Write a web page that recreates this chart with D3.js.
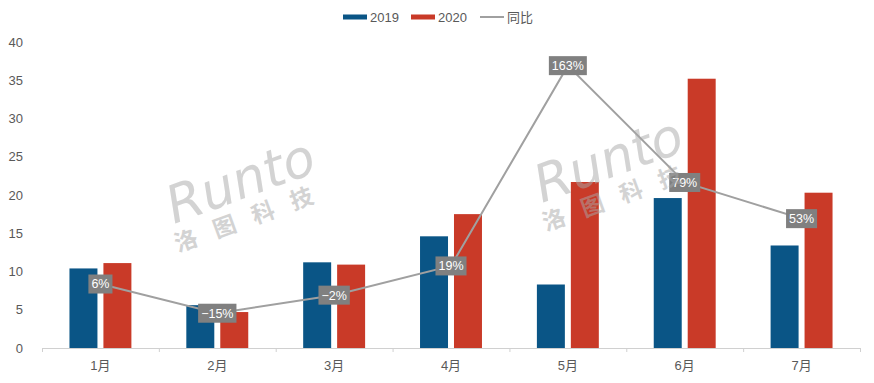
<!DOCTYPE html>
<html><head><meta charset="utf-8">
<script src="https://cdn.jsdelivr.net/npm/d3@7"></script>
<style>body{margin:0;background:#fff;}svg{display:block;font-family:"Liberation Sans","Noto Sans CJK SC",sans-serif;}</style>
</head><body><svg id="c" width="874" height="383"></svg>
<script>
const months = ["1月","2月","3月","4月","5月","6月","7月"];
const seriesNames = ["2019","2020"];
const values2019 = [10.4, 5.6, 11.2, 14.6, 8.3, 19.6, 13.4];
const values2020 = [11.1, 4.7, 10.9, 17.5, 21.7, 35.2, 20.3];
const growth = [6, -15, -2, 19, 163, 79, 53];
const growthLabels = ["6%","−15%","−2%","19%","163%","79%","53%"];
const yTicks = [0,5,10,15,20,25,30,35,40];
const lineName = "同比";
const colors = {"2019":"#0A5586","2020":"#C93A28"};

(function(){
const svg = d3.select("#c");
const pL = 42, pR = 860, pT = 42, pB = 348;

const x0 = d3.scaleBand().domain(months).range([pL, pR]).paddingInner(0.47).paddingOuter(0.235);
const x1 = d3.scaleBand().domain(seriesNames).range([0, x0.bandwidth()]).paddingInner(0.176);
const y = d3.scaleLinear().domain([0, 40]).range([pB, pT]);
const y2 = d3.scaleLinear().domain([-40, 180]).range([pB, pT]);

// axis
const xAxis = d3.axisBottom(d3.scaleLinear().domain([0,7]).range([pL,pR])).tickValues(d3.range(0,8)).tickSize(4).tickFormat("");
const xg = svg.append("g").attr("transform",`translate(0,${pB})`).call(xAxis);
xg.selectAll("path,line").attr("stroke","#d0d0d0");
xg.select(".domain").attr("d",`M${pL},0.5H${pR}`);
svg.append("g").selectAll("text").data(months).join("text")
  .attr("x", d => x0(d) + x0.bandwidth()/2).attr("y", 370)
  .attr("text-anchor","middle").attr("font-size",13).attr("fill","#595959").text(d => d);

const yAxis = d3.axisLeft(y).tickValues(yTicks).tickSize(0).tickPadding(0);
const yg = svg.append("g").attr("transform",`translate(23,0)`).call(yAxis);
yg.select(".domain").remove();
yg.selectAll("text").attr("font-size",13).attr("fill","#595959").attr("font-family","Liberation Sans, sans-serif");

// bars
const rows = months.map((m,i)=>({m, vals:[{k:"2019",v:values2019[i]},{k:"2020",v:values2020[i]}]}));
svg.append("g").selectAll("g").data(rows).join("g")
  .attr("transform", d => `translate(${x0(d.m)},0)`)
  .selectAll("rect").data(d => d.vals).join("rect")
  .attr("x", d => x1(d.k)).attr("width", x1.bandwidth())
  .attr("y", d => y(d.v)).attr("height", d => pB - y(d.v))
  .attr("fill", d => colors[d.k]);

// line
const line = d3.line().x((d,i)=>x0(months[i]) + x0.bandwidth()/2).y(d=>y2(d));
svg.append("path").datum(growth).attr("d", line).attr("fill","none").attr("stroke","#a0a0a0").attr("stroke-width",2);

// labels
const lg = svg.append("g").selectAll("g").data(growth).join("g")
  .attr("transform",(d,i)=>`translate(${x0(months[i]) + x0.bandwidth()/2},${y2(d)})`);
lg.each(function(d,i){
  const g = d3.select(this);
  const t = g.append("text").attr("text-anchor","middle").attr("dy","0.35em").attr("font-size",12.5)
    .attr("fill","#fff").text(growthLabels[i]);
  const bb = t.node().getBBox();
  g.insert("rect","text").attr("x",bb.x-3).attr("y",-9.5).attr("width",bb.width+6).attr("height",19).attr("fill","#808080");
});

// watermark (drawn on top, translucent)
function watermark(cx, cy){
  const g = svg.append("g").attr("transform", `translate(${cx},${cy}) rotate(-20)`).attr("fill","#a8a8a8").attr("opacity",0.5);
  g.append("text").attr("x",0).attr("y",0).attr("font-size",52).attr("font-style","italic")
    .attr("font-family","DejaVu Sans, sans-serif").attr("font-weight",200).text("Runto");
  g.append("text").attr("x",-6).attr("y",28).attr("font-size",23).attr("letter-spacing",18)
    .attr("font-family","Noto Sans CJK SC").attr("font-weight","bold").text("洛图科技");
}
watermark(174, 224);
watermark(542, 203);

// legend
const leg = svg.append("g").attr("font-size",13).attr("fill","#595959");
const legItems = [{t:"2019",x:343,type:"bar",c:colors["2019"]},{t:"2020",x:411,type:"bar",c:colors["2020"]},{t:lineName,x:480,type:"line",c:"#a0a0a0"}];
legItems.forEach(it=>{
  if(it.type==="bar") leg.append("rect").attr("x",it.x).attr("y",14.5).attr("width",24).attr("height",5).attr("fill",it.c);
  else leg.append("line").attr("x1",it.x).attr("x2",it.x+24).attr("y1",17).attr("y2",17).attr("stroke",it.c).attr("stroke-width",2);
  leg.append("text").attr("x",it.x+27).attr("y",22).text(it.t);
});
})();
</script></body></html>
